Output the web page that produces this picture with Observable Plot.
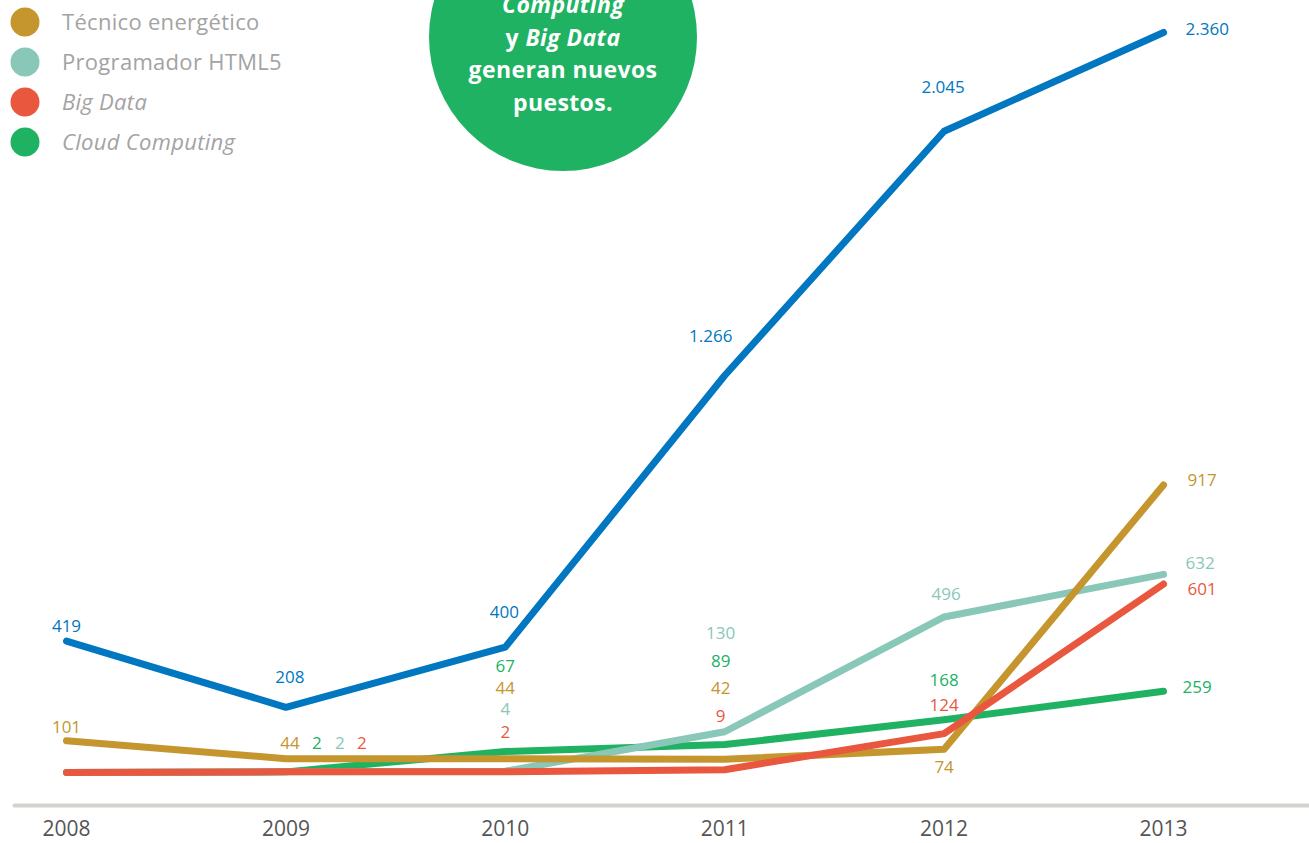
<!DOCTYPE html>
<html><head><meta charset="utf-8">
<script src="https://cdn.jsdelivr.net/npm/d3@7"></script>
<script src="https://cdn.jsdelivr.net/npm/@observablehq/plot@0.6"></script>
<style>
html,body{margin:0;padding:0;background:#fff;}
#chart{position:relative;width:1309px;height:843px;overflow:hidden;}
#chart svg{font-family:"Open Sans",Lato,sans-serif;}
</style></head><body><div id="chart"></div>
<script>
// ---- data ----
const years = [2008, 2009, 2010, 2011, 2012, 2013];
const seriesKeys = ["azul", "tecnico", "html5", "bigdata", "cloud"];
const azul    = [419, 208, 400, 1266, 2045, 2360];
const tecnico = [101, 44, 44, 42, 74, 917];
const html5   = [0, 2, 4, 130, 496, 632];
const bigdata = [0, 2, 2, 9, 124, 601];
const cloud   = [0, 2, 67, 89, 168, 259];
const legendNames = ["Técnico energético", "Programador HTML5", "Big Data", "Cloud Computing"];
const legendKeys = ["tecnico", "html5", "bigdata", "cloud"];
const bubbleLines = ["Computing", "y Big Data", "generan nuevos", "puestos."];

// ---- styles ----
const colors = {azul:"#0077c0", tecnico:"#c4962d", html5:"#89c7b9", bigdata:"#e9573f", cloud:"#20b263"};
const drawOrder = ["cloud", "html5", "tecnico", "bigdata", "azul"];
// label offsets (px) relative to each point
const labelDx = {
  azul:    [0, 4, -1, -14, -1, 22],
  tecnico: [0, 4, 0, -4, 0, 24],
  html5:   [0, 54, 0, -4, 2, 22],
  bigdata: [0, 76, 0, -4, 0, 24],
  cloud:   [0, 31, 0, -4, 0, 19]
};
const labelDy = {
  azul:    [-15, -30, -35, -39, -44, -3],
  tecnico: [-13, -15, -70, -71, 18, -4],
  html5:   [0, -28, -62, -98, -22, -11],
  bigdata: [0, -28, -39, -53, -28, 5],
  cloud:   [0, -28, -85, -83, -39, -4]
};

const values = {azul, tecnico, html5, bigdata, cloud};
const rows = drawOrder.flatMap(s => years.map((year, i) => ({series: s, year, value: values[s][i], i})));
const fmt = d3.formatLocale({decimal: ",", thousands: ".", grouping: [3], currency: ["", "€"]}).format(",");

const labelMarks = rows.filter(d => d.value > 0).map(d =>
  Plot.text([d], {
    x: "year", y: "value", text: r => fmt(r.value),
    fill: colors[d.series], fontSize: 17,
    dx: labelDx[d.series][d.i], dy: labelDy[d.series][d.i],
    textAnchor: d.year === 2013 ? "start" : "middle"
  })
);

const svg = Plot.plot({
  width: 1309, height: 843,
  marginLeft: 14, marginRight: 0, marginTop: 0, marginBottom: 38,
  x: {domain: [2008, 2013], range: [66, 1163]},
  y: {domain: [0, 2360], range: [772, 32], axis: null},
  marks: [
    Plot.frame({anchor: "bottom", stroke: "#d3d3cd", strokeWidth: 4, strokeLinecap: "round"}),
    Plot.axisX({ticks: years, tickFormat: "d", tickSize: 0, tickPadding: 16, fontSize: 21, fill: "#555", label: null}),
    ...drawOrder.map(s => Plot.line(rows.filter(d => d.series === s), {
      x: "year", y: "value", stroke: colors[s], strokeWidth: 7,
      strokeLinecap: "round", strokeLinejoin: "round"
    })),
    ...labelMarks
  ]
});
document.getElementById("chart").appendChild(svg);

// ---- legend and bubble annotation ----
const g = d3.select(svg).append("g").attr("text-anchor", "start");
legendKeys.forEach((k, i) => {
  g.append("circle").attr("cx", 25).attr("cy", 22 + i * 40).attr("r", 14.5).attr("fill", colors[k]);
  g.append("text").attr("x", 62).attr("y", 30 + i * 40)
    .attr("font-size", 22).attr("letter-spacing", 0.3).attr("fill", "#a3a3a3")
    .attr("font-style", i >= 2 ? "italic" : "normal")
    .text(legendNames[i]);
});
const b = d3.select(svg).append("g").attr("text-anchor", "middle");
b.append("circle").attr("cx", 563).attr("cy", 37).attr("r", 134).attr("fill", "#20b263");
const bt = (i) => b.append("text").attr("x", 563).attr("y", 13 + i * 32.7)
  .attr("font-size", 23).attr("letter-spacing", 0.4).attr("font-weight", "bold").attr("fill", "#fff");
bt(0).attr("font-style", "italic").text(bubbleLines[0]);
const t1 = bt(1);
t1.append("tspan").text("y ");
t1.append("tspan").attr("font-style", "italic").text("Big Data");
bt(2).text(bubbleLines[2]);
bt(3).text(bubbleLines[3]);
</script></body></html>
